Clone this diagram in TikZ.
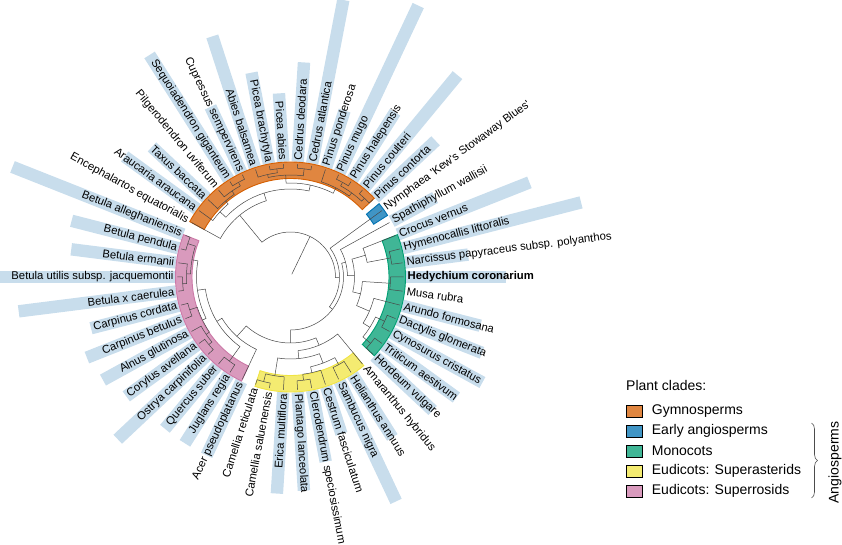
\documentclass[tikz,border=0pt]{standalone}
\usepackage{fontspec}
\setmainfont{Liberation Sans}
\usetikzlibrary{decorations.pathreplacing}

% clade colours (fill = 75% tint, line = full colour)
\definecolor{gymno}{HTML}{E08640}   \definecolor{Lgymno}{HTML}{D55E00}
\definecolor{early}{HTML}{4095C5}   \definecolor{Learly}{HTML}{0072B2}
\definecolor{mono}{HTML}{40B696}    \definecolor{Lmono}{HTML}{009E73}
\definecolor{supast}{HTML}{F4EB71}  \definecolor{Lsupast}{HTML}{F0E442}
\definecolor{suprosid}{HTML}{D99ABD}\definecolor{Lsuprosid}{HTML}{CC79A7}
\definecolor{barblue}{HTML}{C8DDEC}

\newcommand\labfont{\fontsize{11.3}{13}\selectfont}
\newcommand\legfont{\fontsize{14}{17}\selectfont}

% tree node: name, angle, radius
\newcommand\tnode[3]{%
  \coordinate (#1) at (#2:#3);%
  \expandafter\xdef\csname tA@#1\endcsname{#2}%
  \expandafter\xdef\csname tR@#1\endcsname{#3}}
% edge parent -> child: arc at parent radius, then radial line
\newcommand\link[2]{%
  \draw[e] (#1) arc[start angle=\csname tA@#1\endcsname,
    end angle=\csname tA@#2\endcsname, radius=\csname tR@#1\endcsname] -- (#2);}

% tips: name / angle / bar end / label
\newcommand\tiplist{%
Hedy/0/215/{\textbf{Hedychium coronarium}},
Narc/7.2/179/Narcissus papyraceus subsp. polyanthos,
Hyme/14.4/300/Hymenocallis littoralis,
Croc/21.6/257/Crocus vernus,
Spat/28.8/165/Spathiphyllum wallisii,
Nymp/36/0/{Nymphaea \textquotesingle Kew\textquotesingle s Stowaway Blues\textquotesingle},
PiCon/43.2/199/Pinus contorta,
PiCou/50.4/262/Pinus coulteri,
PiHal/57.6/195/Pinus halepensis,
PiMug/64.8/300/Pinus mugo,
PiPon/72/175/Pinus ponderosa,
CeAtl/79.2/282/Cedrus atlantica,
CeDeo/86.4/215/Cedrus deodara,
PcAbi/93.6/184/Picea abies,
PcBra/100.8/208/Picea brachytyla,
Abies/108/253/Abies balsamea,
Cupr/115.2/188/Cupressus sempervirens,
Sequ/122.4/263/Sequoiadendron giganteum,
Pilg/129.6/0/Pilgerodendron uviferum,
Taxus/136.8/190/Taxus baccata,
Arau/144/205/Araucaria araucana,
Ence/151.2/0/Encephalartos equatorialis,
BeAll/-201.6/299/Betula alleghaniensis,
BePen/-194.4/226/Betula pendula,
BeErm/-187.2/221/Betula ermanii,
BeUti/-180/292/Betula utilis subsp. jacquemontii,
BeCae/-172.8/274/Betula x caerulea,
CaCor/-165.6/206/Carpinus cordata,
CaBet/-158.4/219/Carpinus betulus,
Alnus/-151.2/214/Alnus glutinosa,
Coryl/-144/203/Corylus avellana,
Ostr/-136.8/237/Ostrya carpinifolia,
Quer/-129.6/197/Quercus suber,
Jugl/-122.4/197/Juglans regia,
Acer/-115.2/197/Acer pseudoplatanus,
CmRet/-108/0/Camellia reticulata,
CmSal/-100.8/0/Camellia saluenensis,
Erica/-93.6/217/Erica multiflora,
Plant/-86.4/214/Plantago lanceolata,
Cler/-79.2/188/Clerodendrum speciosissimum,
Cest/-72/165/Cestrum fasciculatum,
Samb/-64.8/248/Sambucus nigra,
Heli/-57.6/190/Helianthus annuus,
Amar/-50.4/0/Amaranthus hybridus,
Hord/-43.2/195/Hordeum vulgare,
Trit/-36/205/Triticum aestivum,
Cyno/-28.8/219/Cynosurus cristatus,
Dact/-21.6/206/Dactylis glomerata,
Arun/-14.4/196/Arundo formosana,
Musa/-7.2/0/Musa rubra}

\begin{document}
\begin{tikzpicture}[x=1pt, y=1pt,
  e/.style={draw=black!72, line width=0.5pt},
  bar/.style={fill=barblue},
  band/.style={line width=0.9pt},
  lab/.style={inner sep=0pt, font=\labfont},
  legbox/.style={draw=black, line width=0.5pt, minimum width=16pt, minimum height=11.7pt, inner sep=0pt},
  legtext/.style={anchor=west, inner sep=0pt, font=\legfont},
  clbrace/.style={draw=black!70, line width=0.6pt, decorate, decoration={brace, amplitude=6pt}}
]
\useasboundingbox (-290.5,-268) rectangle (551.5,277);

% --- bars behind the tip labels ---
\foreach \id/\ang/\blen/\txt in \tiplist {
  \ifnum\blen>0 \fill[bar, rotate=\ang] (115.5,-6.2) rectangle (\blen,6.2); \fi
}

% --- clade bands ---
\foreach \c/\s/\t in {gymno/43.2/151.2, early/32.4/39.6, mono/-43.2/21.6,
                      supast/-108/-50.4, suprosid/-201.6/-115.2}
  \filldraw[band, fill=\c, draw=L\c] (\s:98.5) arc[start angle=\s, end angle=\t, radius=98.5]
    -- (\t:115) arc[start angle=\t, end angle=\s, radius=115] -- cycle;

% --- tips ---
\foreach \id/\ang/\blen/\txt in \tiplist { \tnode{\id}{\ang}{113} }

% --- inner nodes ---
\foreach \n/\ang/\r in {
  base/64.3/3, Root/64.3/45, Gymno/129.4/80, Conif/107.55/88,
  Pina/77.85/94, Pinus/63/100, P3/54/104, P1/46.8/108, P2/61.2/108,
  CPA/92.7/102, Cedr/82.8/109, PA/102.6/105, Pice/97.2/109,
  Cuph/137.25/96, Cupal/130.5/100, Cupres/124.2/104, CS/118.8/108,
  Angi/-0.75/49, Mesa/-37.5/53, Mono/15.075/57, Petr/1.35/64,
  Aspa/16.2/78, HN/10.8/102, Comm/-13.5/72, Zing/-3.6/100,
  Poac/-23.4/86, Pooid/-32.4/94, DC/-25.2/104, TH/-39.6/104,
  Eudi/-90/66, SupA/-67.275/74, Aste/-84.15/82, Eric/-99/100,
  CmC/-104.4/108, Euas/-69.3/92, Lamd/-77.4/98, Lami/-82.8/104,
  Camp/-61.2/100, SupR/-132.075/80, Faga/-148.95/86, QJ/-126/104,
  Betl/-171.9/94, Betu/-189.9/100, BAP/-198/108, BEUC/-181.8/104,
  BUC/-176.4/108, CACO/-153.9/98, CaC/-162/106, ACO/-145.8/102,
  CO/-140.4/106}
  { \tnode{\n}{\ang}{\r} }

% --- branches ---
\draw[e] (base) -- (Root);
\foreach \p/\c in {
  Root/Gymno, Root/Angi,
  Gymno/Ence, Gymno/Conif, Conif/Pina, Conif/Cuph,
  Pina/Pinus, Pina/CPA, Pinus/P3, Pinus/PiPon, P3/P1, P3/P2,
  P1/PiCon, P1/PiCou, P2/PiHal, P2/PiMug,
  CPA/Cedr, CPA/PA, Cedr/CeAtl, Cedr/CeDeo, PA/Pice, PA/Abies,
  Pice/PcAbi, Pice/PcBra,
  Cuph/Cupal, Cuph/Arau, Cupal/Cupres, Cupal/Taxus, Cupres/CS, Cupres/Pilg,
  CS/Cupr, CS/Sequ,
  Angi/Nymp, Angi/Mesa, Mesa/Mono, Mesa/Eudi,
  Mono/Spat, Mono/Petr, Petr/Aspa, Petr/Comm, Aspa/Croc, Aspa/HN,
  HN/Narc, HN/Hyme, Comm/Zing, Comm/Poac, Zing/Musa, Zing/Hedy,
  Poac/Arun, Poac/Pooid, Pooid/DC, Pooid/TH, DC/Cyno, DC/Dact,
  TH/Trit, TH/Hord,
  Eudi/SupA, Eudi/SupR, SupA/Aste, SupA/Amar, Aste/Eric, Aste/Euas,
  Eric/CmC, Eric/Erica, CmC/CmRet, CmC/CmSal, Euas/Lamd, Euas/Camp,
  Lamd/Lami, Lamd/Cest, Lami/Plant, Lami/Cler, Camp/Samb, Camp/Heli,
  SupR/Faga, SupR/Acer, Faga/Betl, Faga/QJ, QJ/Quer, QJ/Jugl,
  Betl/Betu, Betl/CACO, Betu/BAP, Betu/BEUC, BAP/BeAll, BAP/BePen,
  BEUC/BeErm, BEUC/BUC, BUC/BeUti, BUC/BeCae,
  CACO/CaC, CACO/ACO, CaC/CaCor, CaC/CaBet, ACO/Alnus, ACO/CO,
  CO/Coryl, CO/Ostr}
  { \link{\p}{\c} }

% --- tip labels ---
\foreach \id/\ang/\blen/\txt in \tiplist {
  \pgfmathsetmacro\am{mod(\ang+720,360)}
  \pgfmathtruncatemacro\flip{and(\am>90,\am<270)}
  \ifnum\flip=1
    \node[lab, anchor=east, rotate=\ang+180] (L\id) at (\ang:117) {\txt};
  \else
    \node[lab, anchor=west, rotate=\ang] (L\id) at (\ang:117) {\txt};
  \fi
}

% --- legend ---
\node[legtext] (legT) at (335.5,-108.5) {Plant clades:};
\foreach \i/\c/\t in {1/gymno/Gymnosperms, 2/early/Early angiosperms, 3/mono/Monocots,
                      4/supast/Eudicots: Superasterids, 5/suprosid/Eudicots: Superrosids} {
  \node[legbox, fill=\c] (box\i) at (343.5,-114-20*\i) {};
  \node[legtext] (leg\i) at (361.2,-114-20*\i) {\t};
}
\coordinate (brT) at (521,-146);
\coordinate (brB) at (521,-221);
\draw[clbrace] (brT) -- (brB);
\node[rotate=90, inner sep=0pt, font=\legfont] (angio) at (544.5,-185.5) {Angiosperms};
\end{tikzpicture}
\end{document}
